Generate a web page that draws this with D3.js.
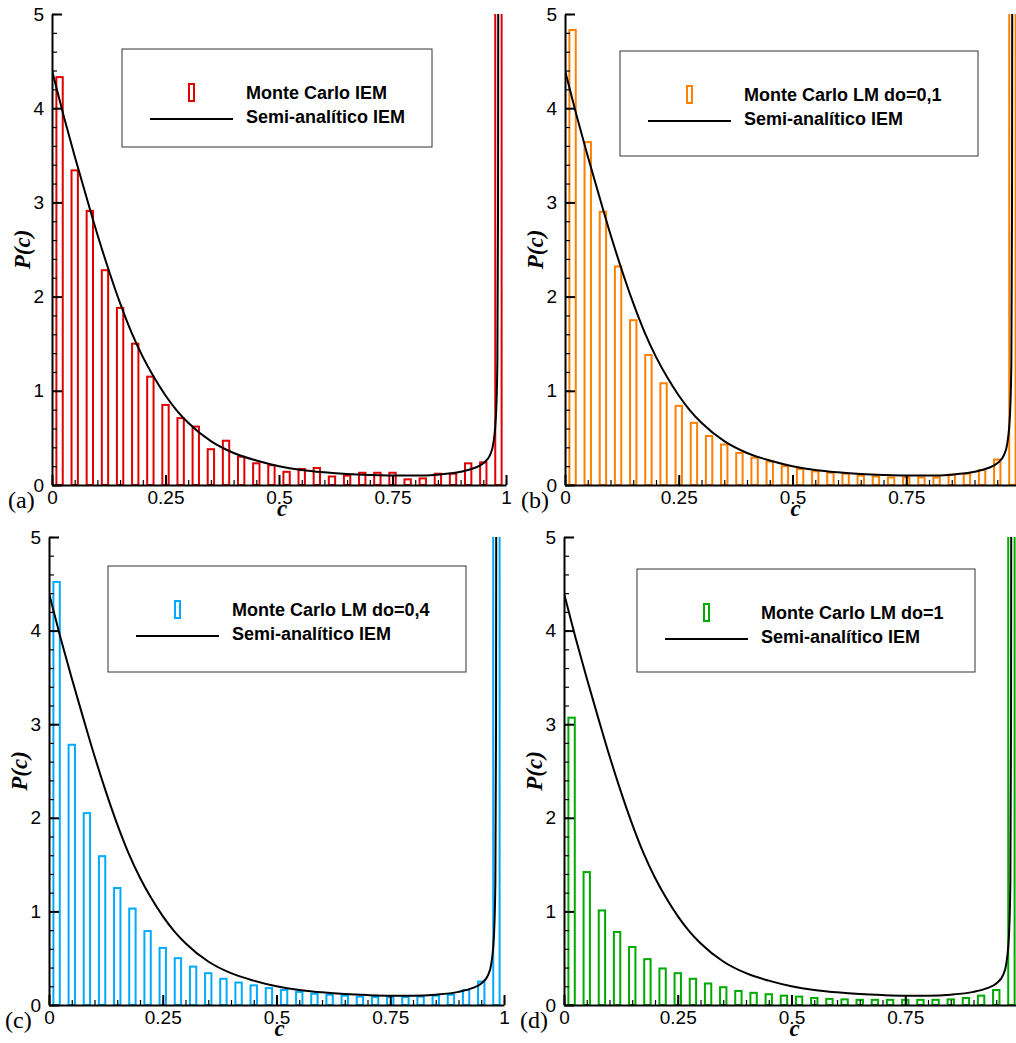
<!DOCTYPE html>
<html lang="en">
<head>
  <meta charset="utf-8">
  <title>P(c) histograms</title>
  <script src="https://d3js.org/d3.v7.min.js"></script>
  <style>
    body { margin: 0; background: #fff; }
    svg { display: block; }
    .tick text { font-family: "Liberation Sans", Arial, sans-serif; font-size: 19px; fill: #000; }
    .legtext { font-family: "Liberation Sans", Arial, sans-serif; font-size: 18px; font-weight: bold; }
    .axtitle { font-family: "Liberation Serif", "Times New Roman", serif; font-weight: bold; font-style: italic; font-size: 23px; }
    .letter { font-family: "Liberation Serif", "Times New Roman", serif; font-size: 24px; }
  </style>
</head>
<body>
<svg width="1016" height="1043"></svg>
<script>
// histogram bins (30 bins over 0..1)
var binsA = [4.33, 3.34, 2.91, 2.28, 1.88, 1.50, 1.15, 0.85, 0.71, 0.62,
             0.38, 0.47, 0.30, 0.23, 0.21, 0.14, 0.17, 0.18, 0.09, 0.10,
             0.13, 0.13, 0.13, 0.06, 0.07, 0.12, 0.12, 0.23, 0.24, 6.9];
var binsB = [4.83, 3.64, 2.90, 2.32, 1.75, 1.38, 1.08, 0.84, 0.66, 0.52,
             0.43, 0.34, 0.29, 0.25, 0.20, 0.17, 0.145, 0.13, 0.12, 0.10,
             0.09, 0.08, 0.08, 0.08, 0.08, 0.11, 0.12, 0.16, 0.27, 7.0];
var binsC = [4.52, 2.78, 2.05, 1.59, 1.25, 1.03, 0.79, 0.61, 0.50, 0.41,
             0.34, 0.28, 0.24, 0.21, 0.18, 0.16, 0.14, 0.12, 0.11, 0.10,
             0.09, 0.085, 0.085, 0.085, 0.09, 0.10, 0.11, 0.16, 0.25, 8.0];
var binsD = [3.07, 1.42, 1.01, 0.78, 0.62, 0.49, 0.39, 0.34, 0.28, 0.23,
             0.19, 0.15, 0.13, 0.115, 0.10, 0.09, 0.075, 0.065, 0.06, 0.055,
             0.055, 0.055, 0.055, 0.055, 0.055, 0.06, 0.075, 0.10, 0.16, 9.0];

// semi-analytic IEM curve
var curveC = [0, 0.025, 0.05, 0.075, 0.1, 0.125, 0.15, 0.175, 0.2, 0.225,
              0.25, 0.275, 0.3, 0.35, 0.4, 0.45, 0.5, 0.55, 0.6, 0.65,
              0.7, 0.75, 0.8, 0.85, 0.9, 0.93, 0.95, 0.965, 0.972, 0.978,
              0.981, 0.9825, 0.983];
var curveP = [4.40, 3.93, 3.49, 3.07, 2.66, 2.28, 1.93, 1.62, 1.36, 1.14,
              0.95, 0.79, 0.66, 0.465, 0.34, 0.26, 0.20, 0.16, 0.135, 0.117,
              0.106, 0.10, 0.10, 0.11, 0.14, 0.18, 0.23, 0.32, 0.44, 0.75,
              1.3, 3.0, 5.5];

var xTicks = [0, 0.25, 0.5, 0.75, 1];
var yTicks = [0, 1, 2, 3, 4, 5];
var nBins = 30;

var panels = [
  {id: "a", bins: binsA, color: "#e00000", name: "Monte Carlo IEM",
   x0: 52, x1: 506, y0: 485, y5: 14, leg: [122, 49, 310, 98]},
  {id: "b", bins: binsB, color: "#ff8000", name: "Monte Carlo LM do=0,1",
   x0: 565, x1: 1020, y0: 485, y5: 14, leg: [620, 51, 358, 105]},
  {id: "c", bins: binsC, color: "#00aaff", name: "Monte Carlo LM do=0,4",
   x0: 49, x1: 504, y0: 1005, y5: 537, leg: [108, 566, 358, 106]},
  {id: "d", bins: binsD, color: "#00aa00", name: "Monte Carlo LM do=1",
   x0: 564, x1: 1019, y0: 1005, y5: 537, leg: [637, 569, 338, 103]}
];

var W = 1016;
var svg = d3.select("svg");

panels.forEach(function(p) {
  var x = d3.scaleLinear().domain([0, 1]).range([p.x0, p.x1]);
  var y = d3.scaleLinear().domain([0, 5]).range([p.y0, p.y5]);
  var g = svg.append("g").attr("class", "panel-" + p.id);

  g.append("clipPath").attr("id", "clip-" + p.id)
    .append("rect")
      .attr("x", p.x0).attr("y", p.y5)
      .attr("width", p.x1 - p.x0 + 10).attr("height", p.y0 - p.y5);

  var plot = g.append("g").attr("clip-path", "url(#clip-" + p.id + ")");

  var bw = 1 / nBins;
  var barW = (x(bw) - x(0)) * 0.42;
  plot.selectAll("rect.bar")
    .data(p.bins)
    .enter().append("rect")
      .attr("class", "bar")
      .attr("x", function(d, i) { return x((i + 0.5) * bw) - barW / 2; })
      .attr("y", function(d) { return y(d); })
      .attr("width", barW)
      .attr("height", function(d) { return y(0) - y(d); })
      .attr("fill", "none")
      .attr("stroke", p.color)
      .attr("stroke-width", 2);

  var line = d3.line()
    .x(function(d) { return x(d[0]); })
    .y(function(d) { return y(d[1]); })
    .curve(d3.curveMonotoneX);

  plot.append("path")
    .datum(d3.zip(curveC, curveP))
    .attr("d", line)
    .attr("fill", "none")
    .attr("stroke", "#000")
    .attr("stroke-width", 2);

  // minor ticks
  g.append("g")
    .attr("transform", "translate(" + p.x0 + ",0)")
    .call(d3.axisLeft(y).tickValues(d3.range(0, 5.01, 0.2)).tickSize(-5).tickFormat(""))
    .call(function(s) { s.select(".domain").remove(); s.selectAll("line").attr("stroke-width", 1.2); });
  g.append("g")
    .attr("transform", "translate(0," + p.y0 + ")")
    .call(d3.axisBottom(x).tickValues(d3.range(0, 1.001, 0.05)).tickSize(-5).tickFormat(""))
    .call(function(s) { s.select(".domain").remove(); s.selectAll("line").attr("stroke-width", 1.2); });

  // major axes
  g.append("g")
    .attr("transform", "translate(" + p.x0 + ",0)")
    .call(d3.axisLeft(y).tickValues(yTicks).tickSize(-10).tickSizeOuter(0).tickPadding(8).tickFormat(d3.format("d")))
    .call(function(s) {
      s.select(".domain").attr("stroke-width", 2);
      s.selectAll(".tick line").attr("stroke-width", 2);
    });
  g.append("g")
    .attr("transform", "translate(0," + p.y0 + ")")
    .call(d3.axisBottom(x).tickValues(xTicks).tickSize(-10).tickSizeOuter(0).tickPadding(6)
      .tickFormat(function(d) { return x(d) + 6 < W ? String(d) : ""; }))
    .call(function(s) {
      s.select(".domain").attr("stroke-width", 2);
      s.selectAll(".tick line").attr("stroke-width", 2);
    });

  // axis titles
  g.append("text")
    .attr("class", "axtitle")
    .attr("text-anchor", "middle")
    .attr("transform", "translate(" + (p.x0 - 22) + "," + ((p.y0 + p.y5) / 2) + ") rotate(-90)")
    .text("P(c)");
  g.append("text")
    .attr("class", "axtitle")
    .attr("text-anchor", "middle")
    .attr("x", x(0.5) + 3)
    .attr("y", p.y0 + 31)
    .text("c");

  g.append("text")
    .attr("class", "letter")
    .attr("x", p.x0 - 44)
    .attr("y", p.y0 + 23)
    .text("(" + p.id + ")");

  // legend
  var L = p.leg;
  var lg = g.append("g").attr("transform", "translate(" + L[0] + "," + L[1] + ")");
  lg.append("rect")
    .attr("width", L[2]).attr("height", L[3])
    .attr("fill", "#fff").attr("stroke", "#333").attr("stroke-width", 1);
  lg.append("rect")
    .attr("x", 67).attr("y", 35).attr("width", 5).attr("height", 17)
    .attr("fill", "none").attr("stroke", p.color).attr("stroke-width", 2);
  lg.append("line")
    .attr("x1", 28).attr("x2", 111).attr("y1", 70).attr("y2", 70)
    .attr("stroke", "#000").attr("stroke-width", 2);
  lg.append("text").attr("class", "legtext").attr("x", 124).attr("y", 50).text(p.name);
  lg.append("text").attr("class", "legtext").attr("x", 124).attr("y", 74).text("Semi-analítico IEM");
});
</script>
</body>
</html>
